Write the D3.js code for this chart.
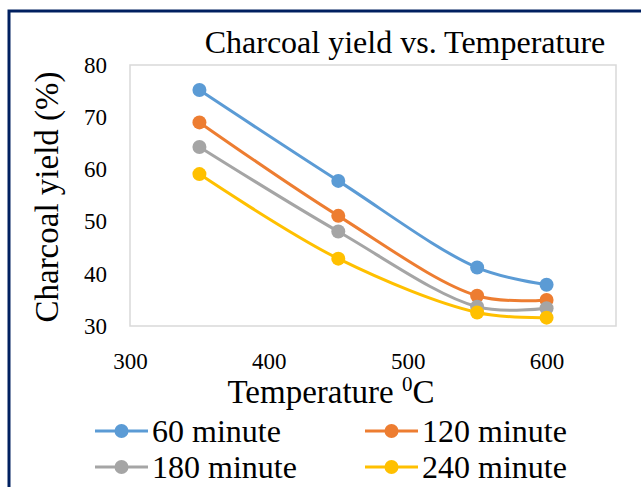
<!DOCTYPE html>
<html>
<head>
<meta charset="utf-8">
<script src="https://cdn.jsdelivr.net/npm/d3@7"></script>
<style>
  body { margin: 0; background: #fff; }
  text { font-family: "Liberation Serif", "Times New Roman", serif; fill: #000; }
</style>
</head>
<body>
<div id="chart"></div>
<script>

// Chart data
var temperatures = [350, 450, 550, 600];
var seriesNames = ["60 minute", "120 minute", "180 minute", "240 minute"];
var yield60 = [75.2, 57.8, 41.2, 37.9];
var yield120 = [69.0, 51.1, 35.8, 35.0];
var yield180 = [64.3, 48.1, 33.7, 33.4];
var yield240 = [59.1, 42.9, 32.6, 31.6];
var xTicks = [300, 400, 500, 600];
var yTicks = [30, 40, 50, 60, 70, 80];
var colors = ["#5B9BD5", "#ED7D31", "#A5A5A5", "#FFC000"];

var width = 641,
    height = 487;

var plot = { left: 130, right: 616, top: 65, bottom: 326 };
var serif = "Liberation Serif";

var series = [yield60, yield120, yield180, yield240].map(function(vals, i) {
    return {
        name: seriesNames[i],
        color: colors[i],
        points: temperatures.map(function(t, j) { return { x: t, y: vals[j] }; })
    };
});

var svg = d3.select("#chart").append("svg")
    .attr("width", width)
    .attr("height", height);

// Outer frame (only top and left visible)
svg.append("rect")
    .attr("x", 9)
    .attr("y", 11)
    .attr("width", width + 20)
    .attr("height", height + 20)
    .attr("fill", "none")
    .attr("stroke", "#002060")
    .attr("stroke-width", 3);

// Scales
var xScale = d3.scaleLinear()
    .domain([300, 650])
    .range([plot.left, plot.right]);

var yScale = d3.scaleLinear()
    .domain([30, 80])
    .range([plot.bottom, plot.top]);

// Plot area border
svg.append("rect")
    .attr("x", plot.left)
    .attr("y", plot.top)
    .attr("width", plot.right - plot.left)
    .attr("height", plot.bottom - plot.top)
    .attr("fill", "none")
    .attr("stroke", "#d9d9d9")
    .attr("stroke-width", 1.5);

// Axes (labels only)
var yAxis = d3.axisLeft(yScale)
    .tickValues(yTicks)
    .tickSize(0)
    .tickPadding(23);

var xAxis = d3.axisBottom(xScale)
    .tickValues(xTicks)
    .tickSize(0)
    .tickPadding(27);

var gy = svg.append("g")
    .attr("transform", "translate(" + plot.left + ",0)")
    .call(yAxis);

var gx = svg.append("g")
    .attr("transform", "translate(0," + plot.bottom + ")")
    .call(xAxis);

[gx, gy].forEach(function(g) {
    g.attr("font-family", serif);
    g.select(".domain").remove();
    g.selectAll("text")
        .style("font-family", serif)
        .style("font-size", "23px")
        .attr("fill", "#000");
});

// Lines
var line = d3.line()
    .x(function(d) { return xScale(d.x); })
    .y(function(d) { return yScale(d.y); })
    .curve(d3.curveCatmullRom.alpha(0.5));

var seriesGroups = svg.selectAll(".series")
    .data(series)
    .enter()
    .append("g")
    .attr("class", "series");

seriesGroups.append("path")
    .attr("d", function(d) { return line(d.points); })
    .attr("fill", "none")
    .attr("stroke", function(d) { return d.color; })
    .attr("stroke-width", 3);

seriesGroups.selectAll("circle")
    .data(function(d) { return d.points.map(function(p) { return { p: p, color: d.color }; }); })
    .enter()
    .append("circle")
    .attr("cx", function(d) { return xScale(d.p.x); })
    .attr("cy", function(d) { return yScale(d.p.y); })
    .attr("r", 7)
    .attr("fill", function(d) { return d.color; });

// Title
svg.append("text")
    .attr("x", 405)
    .attr("y", 53)
    .attr("text-anchor", "middle")
    .style("font-family", serif)
    .style("font-size", "32px")
    .text("Charcoal yield vs. Temperature");

// Y axis title
svg.append("text")
    .attr("transform", "translate(58,197) rotate(-90)")
    .attr("text-anchor", "middle")
    .style("font-family", serif)
    .style("font-size", "33px")
    .text("Charcoal yield (%)");

// X axis title with superscript
var xTitle = svg.append("text")
    .attr("x", 331)
    .attr("y", 403)
    .attr("text-anchor", "middle")
    .style("font-family", serif)
    .style("font-size", "33px");
xTitle.append("tspan").text("Temperature ");
xTitle.append("tspan").attr("dy", -12).style("font-size", "21px").text("0");
xTitle.append("tspan").attr("dy", 12).text("C");

// Legend
var legendPos = [
    { x: 95, y: 431 }, { x: 365, y: 431 },
    { x: 95, y: 467 }, { x: 365, y: 467 }
];

var legend = svg.selectAll(".legend")
    .data(series)
    .enter()
    .append("g")
    .attr("class", "legend")
    .attr("transform", function(d, i) { return "translate(" + legendPos[i].x + "," + legendPos[i].y + ")"; });

legend.append("line")
    .attr("x1", 0)
    .attr("x2", 53)
    .attr("stroke", function(d) { return d.color; })
    .attr("stroke-width", 3);

legend.append("circle")
    .attr("cx", 26.5)
    .attr("r", 7)
    .attr("fill", function(d) { return d.color; });

legend.append("text")
    .attr("x", 57)
    .attr("y", 11)
    .style("font-family", serif)
    .style("font-size", "32px")
    .text(function(d) { return d.name; });

</script>
</body>
</html>
